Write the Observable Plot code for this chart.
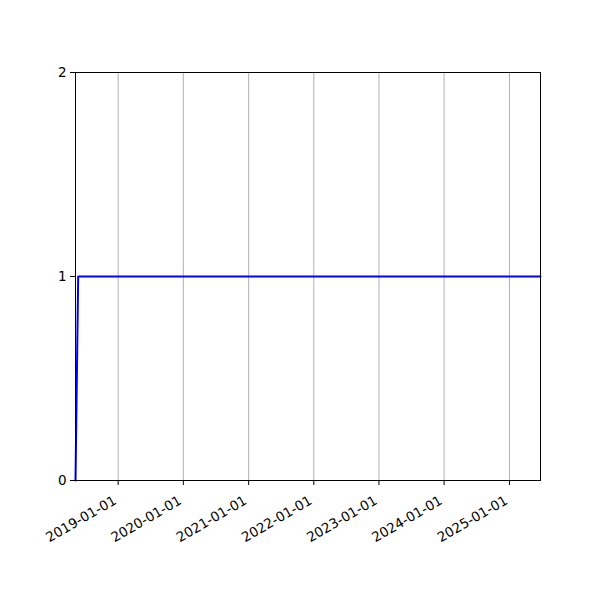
<!DOCTYPE html>
<html>
<head>
<meta charset="utf-8">
<script src="https://cdn.jsdelivr.net/npm/d3@7"></script>
<script src="https://cdn.jsdelivr.net/npm/@observablehq/plot@0.6"></script>
<style>
  html, body { margin: 0; padding: 0; background: #fff; }
  #chart { width: 600px; height: 600px; }
</style>
</head>
<body>
<div id="chart"></div>
<script>
// Data
const dates = ["2018-05-07", "2018-05-22", "2025-06-24"];
const values = [0, 1, 1];
const xTickLabels = ["2019-01-01", "2020-01-01", "2021-01-01", "2022-01-01", "2023-01-01", "2024-01-01", "2025-01-01"];
const yTicks = [0, 1, 2];

const data = dates.map((d, i) => ({date: new Date(d + "T00:00:00Z"), value: values[i]}));
const xTicks = xTickLabels.map(d => new Date(d + "T00:00:00Z"));
const fmt = d3.utcFormat("%Y-%m-%d");

const chart = Plot.plot({
  width: 600,
  height: 600,
  marginLeft: 75,
  marginRight: 60,
  marginTop: 72,
  marginBottom: 120,
  style: {fontFamily: "DejaVu Sans", fontSize: "13.5px", color: "black", background: "white"},
  x: {type: "utc", domain: [data[0].date, data[data.length - 1].date]},
  y: {domain: [0, 2]},
  marks: [
    Plot.gridX(xTicks, {stroke: "#b0b0b0", strokeOpacity: 1, strokeWidth: 1}),
    Plot.line(data, {x: "date", y: "value", stroke: "#0000ff", strokeWidth: 2, curve: "linear"}),
    Plot.frame({stroke: "black", strokeWidth: 1}),
    Plot.axisX({ticks: xTicks, tickSize: 5, stroke: "black", text: null, label: null}),
    Plot.axisX({ticks: xTicks, tickFormat: fmt, tickSize: 0, tickPadding: 19, dx: -3, tickRotate: -30, label: null}),
    Plot.axisY({ticks: yTicks, tickFormat: d => String(d), tickSize: 5, tickPadding: 4, label: null, stroke: "black"})
  ]
});
document.getElementById("chart").appendChild(chart);
</script>
</body>
</html>
